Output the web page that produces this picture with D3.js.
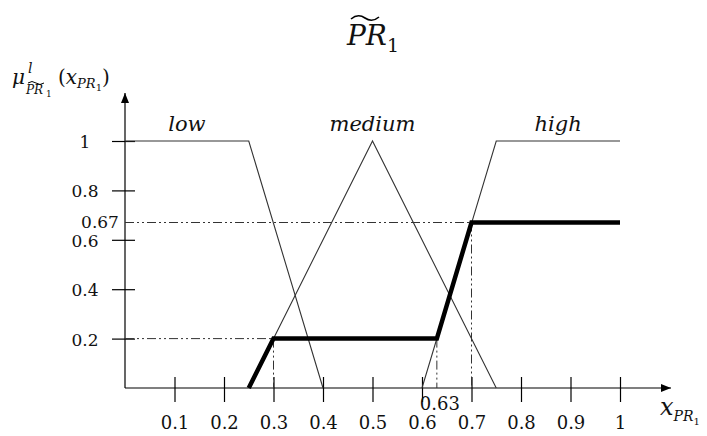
<!DOCTYPE html>
<html><head><meta charset="utf-8">
<script src="https://cdn.jsdelivr.net/npm/d3@7"></script>
<style>
body{margin:0;background:#fff;}
text{font-family:"DejaVu Serif",serif;fill:#111;}
</style></head>
<body><svg id="c" width="707" height="436"></svg>
<script>
// ---- data ----
const xTicks = [0.1,0.2,0.3,0.4,0.5,0.6,0.7,0.8,0.9,1];
const xTickLabels = ["0.1","0.2","0.3","0.4","0.5","0.6","0.7","0.8","0.9","1"];
const yTicks = [0.2,0.4,0.6,0.67,0.8,1];
const yTickLabels = ["0.2","0.4","0.6","0.67","0.8","1"];
const setNames = ["low","medium","high"];
const setLabelX = [0.125,0.5,0.875];
const lowPts = [[0,1],[0.25,1],[0.4,0]];
const mediumPts = [[0.25,0],[0.5,1],[0.75,0]];
const highPts = [[0.6,0],[0.75,1],[1,1]];
const resultPts = [[0.25,0],[0.3,0.2],[0.63,0.2],[0.7,0.67],[1,0.67]];
const guideH = [[0.2,0.3],[0.67,0.7]];           // [level, x end]
const guideV = [[0.3,0.2],[0.63,0.2],[0.7,0.67]]; // [x, level]
const extraLabel = {x:0.63, text:"0.63"};
const cutLevel = 0.67;

const FONT = "DejaVu Serif, serif";
const svg = d3.select("#c");
const x = d3.scaleLinear().domain([0,1]).range([125,620]);
const y = d3.scaleLinear().domain([0,1]).range([388,141]);
const line = d3.line().x(d=>x(d[0])).y(d=>y(d[1]));

// axes lines with arrows
svg.append("defs").append("marker").attr("id","arr").attr("viewBox","0 0 10 10")
  .attr("refX",10).attr("refY",5).attr("markerWidth",10).attr("markerHeight",10)
  .attr("markerUnits","userSpaceOnUse").attr("orient","auto")
  .append("path").attr("d","M0,1 L10,5 L0,9 Z").attr("fill","#000");
svg.append("line").attr("x1",x(0)).attr("y1",y(0)).attr("x2",671).attr("y2",y(0))
  .attr("stroke","#000").attr("stroke-width",1.2).attr("marker-end","url(#arr)");
svg.append("line").attr("x1",x(0)).attr("y1",y(0)).attr("x2",x(0)).attr("y2",93)
  .attr("stroke","#000").attr("stroke-width",1.2).attr("marker-end","url(#arr)");

// x axis ticks
const gx = svg.append("g").attr("transform",`translate(0,${y(0)})`)
  .call(d3.axisBottom(x).tickValues(xTicks).tickSize(14).tickFormat((d,i)=>xTickLabels[i]));
gx.select(".domain").remove();
gx.selectAll(".tick line").attr("y1",-11).attr("stroke","#000").attr("stroke-width",1.2);
gx.selectAll(".tick text").attr("y",41).attr("dy",0).attr("font-size",18)
  .attr("fill","#111").style("font-family",FONT);

// y axis ticks
const gy = svg.append("g").attr("transform",`translate(${x(0)},0)`)
  .call(d3.axisLeft(y).tickValues(yTicks).tickSize(13).tickFormat((d,i)=>yTickLabels[i]));
gy.select(".domain").remove();
gy.selectAll(".tick line").attr("x2",-13).attr("x1",10).attr("stroke","#000").attr("stroke-width",1.2)
  .attr("display",d=>d===cutLevel?"none":null);
gy.selectAll(".tick text").attr("x",d=>d===cutLevel?-25:-40).attr("text-anchor","middle")
  .attr("dy",d=>d===cutLevel?"0.28em":"0.38em")
  .attr("font-size",17).attr("fill","#111").style("font-family",FONT);

// guide dash-dot lines
const dash = "9,3,2,3,2,3";
guideH.forEach(g=>{
  svg.append("line").attr("x1",x(0)).attr("x2",x(g[1])).attr("y1",y(g[0])).attr("y2",y(g[0]))
    .attr("stroke","#333").attr("stroke-width",1).attr("stroke-dasharray",dash);
});
guideV.forEach(g=>{
  svg.append("line").attr("x1",x(g[0])).attr("x2",x(g[0])).attr("y1",y(g[1])).attr("y2",y(0))
    .attr("stroke","#333").attr("stroke-width",1).attr("stroke-dasharray",dash);
});

// membership functions
[lowPts,mediumPts,highPts].forEach(p=>{
  svg.append("path").attr("d",line(p)).attr("fill","none").attr("stroke","#333").attr("stroke-width",1.1);
});
svg.append("path").attr("d",line(resultPts)).attr("fill","none").attr("stroke","#000")
  .attr("stroke-width",4.5).attr("stroke-linejoin","miter");

// set names
setNames.forEach((n,i)=>{
  svg.append("text").attr("x",x(setLabelX[i])).attr("y",131).attr("text-anchor","middle")
    .attr("font-size",21).attr("font-style","italic").text(n);
});

// extra label 0.63
svg.append("text").attr("x",x(extraLabel.x)+3).attr("y",410).attr("text-anchor","middle")
  .attr("font-size",18).text(extraLabel.text);

// title  ~PR_1
const t = svg.append("text").attr("x",347).attr("y",45).attr("font-size",28);
t.append("tspan").attr("font-style","italic").text("PR");
t.append("tspan").attr("font-size",19).attr("dy",7).text("1");
svg.append("path").attr("d","M351,19 q7,-6 14,-1 t14,-1").attr("fill","none")
  .attr("stroke","#000").attr("stroke-width",1.6);

// y axis label  mu^l_{~PR_1}(x_{PR_1})
const yl = svg.append("g");
yl.append("text").attr("x",12).attr("y",84).attr("font-size",20).attr("font-style","italic").text("μ");
yl.append("text").attr("x",28).attr("y",73).attr("font-size",14).attr("font-style","italic").text("l");
yl.append("text").attr("x",26).attr("y",94).attr("font-size",12).attr("font-style","italic").text("PR");
yl.append("text").attr("x",46).attr("y",97).attr("font-size",9).text("1");
yl.append("path").attr("d","M28,83 q4,-3 8,0 t8,0").attr("fill","none").attr("stroke","#000").attr("stroke-width",1);
const yl2 = yl.append("text").attr("x",58).attr("y",84).attr("font-size",20);
yl2.append("tspan").text("(");
yl2.append("tspan").attr("font-style","italic").text("x");
yl2.append("tspan").attr("font-style","italic").attr("font-size",13).attr("dy",4).text("PR");
yl2.append("tspan").attr("font-size",10).attr("dy",3).text("1");
yl2.append("tspan").attr("dy",-7).text(")");

// x axis label x_{PR_1}
const xl = svg.append("text").attr("x",660).attr("y",415).attr("font-size",24);
xl.append("tspan").attr("font-style","italic").text("x");
xl.append("tspan").attr("font-style","italic").attr("font-size",14).attr("dy",6).text("PR");
xl.append("tspan").attr("font-size",10).attr("dy",4).text("1");
</script></body></html>
